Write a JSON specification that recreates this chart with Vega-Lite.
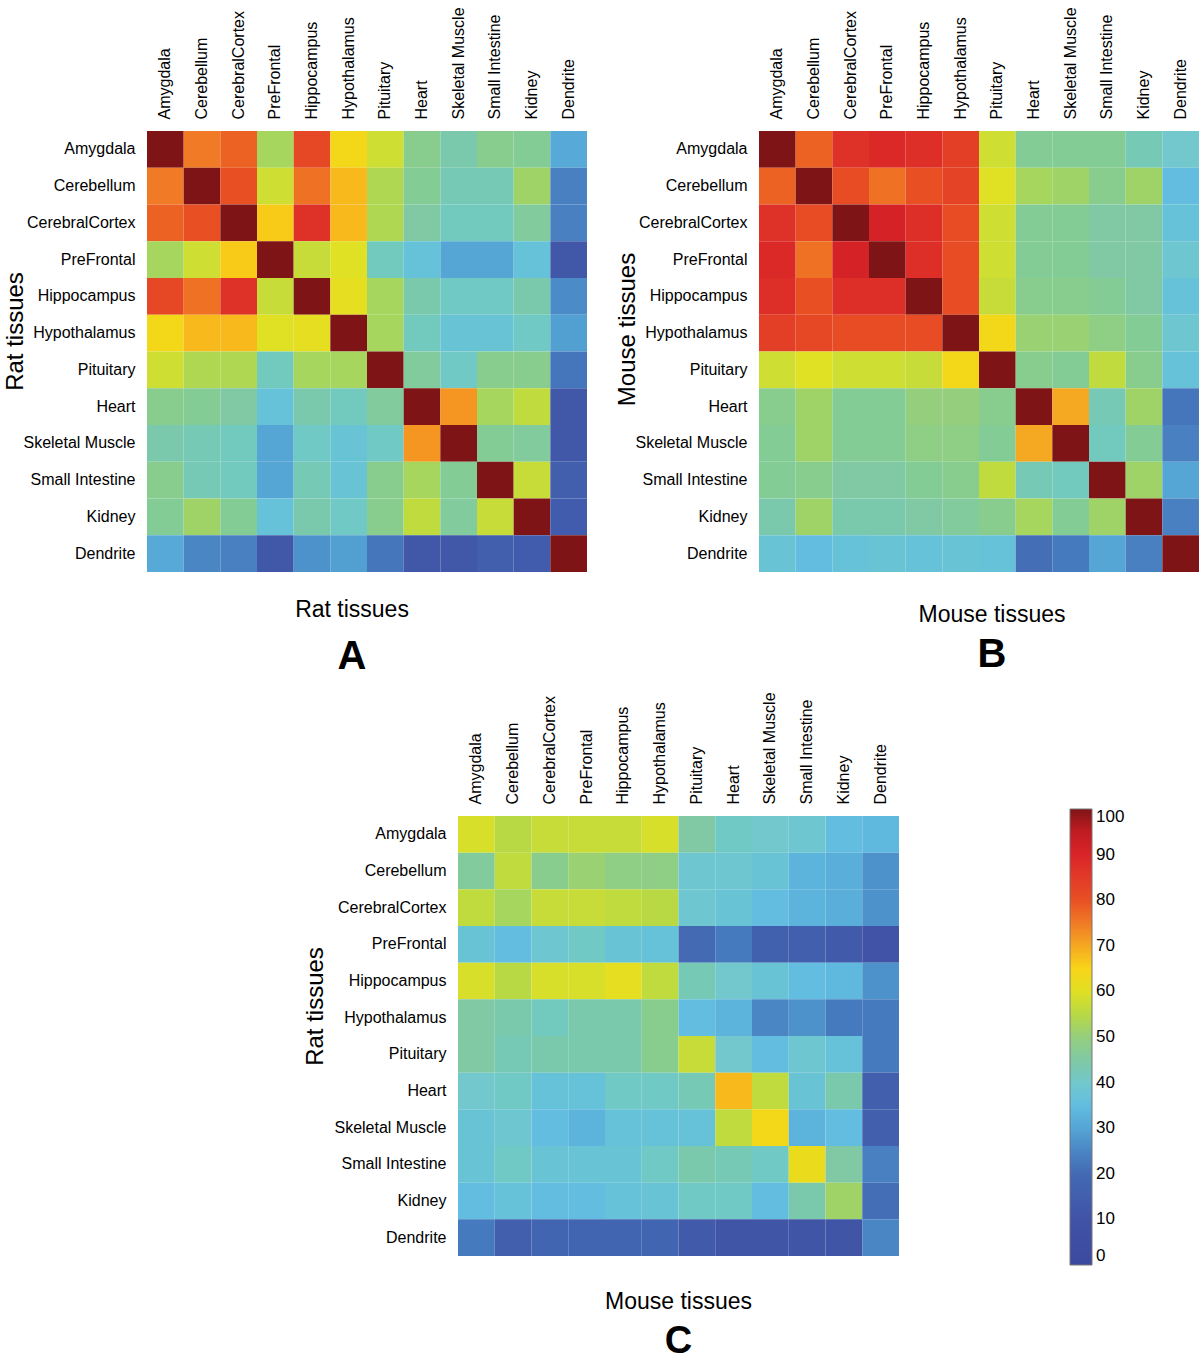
{
"$schema": "https://vega.github.io/schema/vega-lite/v6.json",
"padding": {"left": 3, "top": 6, "right": 0, "bottom": 0},
"background": "white",
"config": {"font": "Liberation Sans", "view": {"stroke": null},
 "axis": {"labelFont": "Liberation Sans", "labelFontSize": 16, "labelColor": "black", "ticks": false, "domain": false, "labelPadding": 12, "titleFont": "Liberation Sans", "titleFontSize": 23, "titleFontWeight": "normal", "titleColor": "black"},
 "title": {"font": "Liberation Sans", "fontSize": 23, "fontWeight": "normal", "color": "black", "subtitleFont": "Liberation Sans", "subtitleFontSize": 40, "subtitleFontWeight": "bold", "subtitleColor": "black", "orient": "bottom", "frame": "group", "anchor": "middle"}
},
"datasets": {
"A": [
{"r":"Amygdala","c":"Amygdala","v":100},{"r":"Amygdala","c":"Cerebellum","v":75},{"r":"Amygdala","c":"CerebralCortex","v":78},{"r":"Amygdala","c":"PreFrontal","v":53},{"r":"Amygdala","c":"Hippocampus","v":82},{"r":"Amygdala","c":"Hypothalamus","v":64},{"r":"Amygdala","c":"Pituitary","v":58},{"r":"Amygdala","c":"Heart","v":48},{"r":"Amygdala","c":"Skeletal Muscle","v":44},{"r":"Amygdala","c":"Small Intestine","v":48},{"r":"Amygdala","c":"Kidney","v":47},{"r":"Amygdala","c":"Dendrite","v":31},
{"r":"Cerebellum","c":"Amygdala","v":75},{"r":"Cerebellum","c":"Cerebellum","v":100},{"r":"Cerebellum","c":"CerebralCortex","v":80},{"r":"Cerebellum","c":"PreFrontal","v":58},{"r":"Cerebellum","c":"Hippocampus","v":76},{"r":"Cerebellum","c":"Hypothalamus","v":68},{"r":"Cerebellum","c":"Pituitary","v":54},{"r":"Cerebellum","c":"Heart","v":47},{"r":"Cerebellum","c":"Skeletal Muscle","v":43},{"r":"Cerebellum","c":"Small Intestine","v":43},{"r":"Cerebellum","c":"Kidney","v":52},{"r":"Cerebellum","c":"Dendrite","v":24},
{"r":"CerebralCortex","c":"Amygdala","v":78},{"r":"CerebralCortex","c":"Cerebellum","v":80},{"r":"CerebralCortex","c":"CerebralCortex","v":100},{"r":"CerebralCortex","c":"PreFrontal","v":66},{"r":"CerebralCortex","c":"Hippocampus","v":87},{"r":"CerebralCortex","c":"Hypothalamus","v":68},{"r":"CerebralCortex","c":"Pituitary","v":54},{"r":"CerebralCortex","c":"Heart","v":45},{"r":"CerebralCortex","c":"Skeletal Muscle","v":42},{"r":"CerebralCortex","c":"Small Intestine","v":42},{"r":"CerebralCortex","c":"Kidney","v":46},{"r":"CerebralCortex","c":"Dendrite","v":24},
{"r":"PreFrontal","c":"Amygdala","v":53},{"r":"PreFrontal","c":"Cerebellum","v":58},{"r":"PreFrontal","c":"CerebralCortex","v":66},{"r":"PreFrontal","c":"PreFrontal","v":100},{"r":"PreFrontal","c":"Hippocampus","v":57},{"r":"PreFrontal","c":"Hypothalamus","v":60},{"r":"PreFrontal","c":"Pituitary","v":42},{"r":"PreFrontal","c":"Heart","v":37},{"r":"PreFrontal","c":"Skeletal Muscle","v":30},{"r":"PreFrontal","c":"Small Intestine","v":30},{"r":"PreFrontal","c":"Kidney","v":37},{"r":"PreFrontal","c":"Dendrite","v":12},
{"r":"Hippocampus","c":"Amygdala","v":82},{"r":"Hippocampus","c":"Cerebellum","v":76},{"r":"Hippocampus","c":"CerebralCortex","v":87},{"r":"Hippocampus","c":"PreFrontal","v":57},{"r":"Hippocampus","c":"Hippocampus","v":100},{"r":"Hippocampus","c":"Hypothalamus","v":61},{"r":"Hippocampus","c":"Pituitary","v":53},{"r":"Hippocampus","c":"Heart","v":44},{"r":"Hippocampus","c":"Skeletal Muscle","v":41},{"r":"Hippocampus","c":"Small Intestine","v":41},{"r":"Hippocampus","c":"Kidney","v":44},{"r":"Hippocampus","c":"Dendrite","v":26},
{"r":"Hypothalamus","c":"Amygdala","v":64},{"r":"Hypothalamus","c":"Cerebellum","v":68},{"r":"Hypothalamus","c":"CerebralCortex","v":68},{"r":"Hypothalamus","c":"PreFrontal","v":60},{"r":"Hypothalamus","c":"Hippocampus","v":61},{"r":"Hypothalamus","c":"Hypothalamus","v":100},{"r":"Hypothalamus","c":"Pituitary","v":53},{"r":"Hypothalamus","c":"Heart","v":42},{"r":"Hypothalamus","c":"Skeletal Muscle","v":38},{"r":"Hypothalamus","c":"Small Intestine","v":38},{"r":"Hypothalamus","c":"Kidney","v":41},{"r":"Hypothalamus","c":"Dendrite","v":29},
{"r":"Pituitary","c":"Amygdala","v":58},{"r":"Pituitary","c":"Cerebellum","v":54},{"r":"Pituitary","c":"CerebralCortex","v":54},{"r":"Pituitary","c":"PreFrontal","v":42},{"r":"Pituitary","c":"Hippocampus","v":53},{"r":"Pituitary","c":"Hypothalamus","v":53},{"r":"Pituitary","c":"Pituitary","v":100},{"r":"Pituitary","c":"Heart","v":46},{"r":"Pituitary","c":"Skeletal Muscle","v":41},{"r":"Pituitary","c":"Small Intestine","v":48},{"r":"Pituitary","c":"Kidney","v":48},{"r":"Pituitary","c":"Dendrite","v":22},
{"r":"Heart","c":"Amygdala","v":48},{"r":"Heart","c":"Cerebellum","v":47},{"r":"Heart","c":"CerebralCortex","v":45},{"r":"Heart","c":"PreFrontal","v":37},{"r":"Heart","c":"Hippocampus","v":44},{"r":"Heart","c":"Hypothalamus","v":42},{"r":"Heart","c":"Pituitary","v":46},{"r":"Heart","c":"Heart","v":100},{"r":"Heart","c":"Skeletal Muscle","v":72},{"r":"Heart","c":"Small Intestine","v":53},{"r":"Heart","c":"Kidney","v":56},{"r":"Heart","c":"Dendrite","v":12},
{"r":"Skeletal Muscle","c":"Amygdala","v":44},{"r":"Skeletal Muscle","c":"Cerebellum","v":43},{"r":"Skeletal Muscle","c":"CerebralCortex","v":42},{"r":"Skeletal Muscle","c":"PreFrontal","v":30},{"r":"Skeletal Muscle","c":"Hippocampus","v":41},{"r":"Skeletal Muscle","c":"Hypothalamus","v":38},{"r":"Skeletal Muscle","c":"Pituitary","v":41},{"r":"Skeletal Muscle","c":"Heart","v":72},{"r":"Skeletal Muscle","c":"Skeletal Muscle","v":100},{"r":"Skeletal Muscle","c":"Small Intestine","v":47},{"r":"Skeletal Muscle","c":"Kidney","v":46},{"r":"Skeletal Muscle","c":"Dendrite","v":12},
{"r":"Small Intestine","c":"Amygdala","v":48},{"r":"Small Intestine","c":"Cerebellum","v":43},{"r":"Small Intestine","c":"CerebralCortex","v":42},{"r":"Small Intestine","c":"PreFrontal","v":30},{"r":"Small Intestine","c":"Hippocampus","v":43},{"r":"Small Intestine","c":"Hypothalamus","v":38},{"r":"Small Intestine","c":"Pituitary","v":48},{"r":"Small Intestine","c":"Heart","v":53},{"r":"Small Intestine","c":"Skeletal Muscle","v":47},{"r":"Small Intestine","c":"Small Intestine","v":100},{"r":"Small Intestine","c":"Kidney","v":57},{"r":"Small Intestine","c":"Dendrite","v":15},
{"r":"Kidney","c":"Amygdala","v":47},{"r":"Kidney","c":"Cerebellum","v":52},{"r":"Kidney","c":"CerebralCortex","v":47},{"r":"Kidney","c":"PreFrontal","v":37},{"r":"Kidney","c":"Hippocampus","v":44},{"r":"Kidney","c":"Hypothalamus","v":41},{"r":"Kidney","c":"Pituitary","v":48},{"r":"Kidney","c":"Heart","v":56},{"r":"Kidney","c":"Skeletal Muscle","v":46},{"r":"Kidney","c":"Small Intestine","v":57},{"r":"Kidney","c":"Kidney","v":100},{"r":"Kidney","c":"Dendrite","v":14},
{"r":"Dendrite","c":"Amygdala","v":31},{"r":"Dendrite","c":"Cerebellum","v":25},{"r":"Dendrite","c":"CerebralCortex","v":24},{"r":"Dendrite","c":"PreFrontal","v":12},{"r":"Dendrite","c":"Hippocampus","v":27},{"r":"Dendrite","c":"Hypothalamus","v":29},{"r":"Dendrite","c":"Pituitary","v":22},{"r":"Dendrite","c":"Heart","v":12},{"r":"Dendrite","c":"Skeletal Muscle","v":12},{"r":"Dendrite","c":"Small Intestine","v":15},{"r":"Dendrite","c":"Kidney","v":14},{"r":"Dendrite","c":"Dendrite","v":100}
],
"B": [
{"r":"Amygdala","c":"Amygdala","v":100},{"r":"Amygdala","c":"Cerebellum","v":78},{"r":"Amygdala","c":"CerebralCortex","v":87},{"r":"Amygdala","c":"PreFrontal","v":89},{"r":"Amygdala","c":"Hippocampus","v":88},{"r":"Amygdala","c":"Hypothalamus","v":84},{"r":"Amygdala","c":"Pituitary","v":58},{"r":"Amygdala","c":"Heart","v":47},{"r":"Amygdala","c":"Skeletal Muscle","v":47},{"r":"Amygdala","c":"Small Intestine","v":47},{"r":"Amygdala","c":"Kidney","v":43},{"r":"Amygdala","c":"Dendrite","v":40},
{"r":"Cerebellum","c":"Amygdala","v":78},{"r":"Cerebellum","c":"Cerebellum","v":100},{"r":"Cerebellum","c":"CerebralCortex","v":81},{"r":"Cerebellum","c":"PreFrontal","v":76},{"r":"Cerebellum","c":"Hippocampus","v":80},{"r":"Cerebellum","c":"Hypothalamus","v":83},{"r":"Cerebellum","c":"Pituitary","v":60},{"r":"Cerebellum","c":"Heart","v":53},{"r":"Cerebellum","c":"Skeletal Muscle","v":52},{"r":"Cerebellum","c":"Small Intestine","v":48},{"r":"Cerebellum","c":"Kidney","v":52},{"r":"Cerebellum","c":"Dendrite","v":35},
{"r":"CerebralCortex","c":"Amygdala","v":87},{"r":"CerebralCortex","c":"Cerebellum","v":81},{"r":"CerebralCortex","c":"CerebralCortex","v":100},{"r":"CerebralCortex","c":"PreFrontal","v":91},{"r":"CerebralCortex","c":"Hippocampus","v":88},{"r":"CerebralCortex","c":"Hypothalamus","v":81},{"r":"CerebralCortex","c":"Pituitary","v":58},{"r":"CerebralCortex","c":"Heart","v":47},{"r":"CerebralCortex","c":"Skeletal Muscle","v":47},{"r":"CerebralCortex","c":"Small Intestine","v":45},{"r":"CerebralCortex","c":"Kidney","v":45},{"r":"CerebralCortex","c":"Dendrite","v":37},
{"r":"PreFrontal","c":"Amygdala","v":89},{"r":"PreFrontal","c":"Cerebellum","v":76},{"r":"PreFrontal","c":"CerebralCortex","v":91},{"r":"PreFrontal","c":"PreFrontal","v":100},{"r":"PreFrontal","c":"Hippocampus","v":88},{"r":"PreFrontal","c":"Hypothalamus","v":81},{"r":"PreFrontal","c":"Pituitary","v":58},{"r":"PreFrontal","c":"Heart","v":47},{"r":"PreFrontal","c":"Skeletal Muscle","v":47},{"r":"PreFrontal","c":"Small Intestine","v":45},{"r":"PreFrontal","c":"Kidney","v":45},{"r":"PreFrontal","c":"Dendrite","v":39},
{"r":"Hippocampus","c":"Amygdala","v":88},{"r":"Hippocampus","c":"Cerebellum","v":80},{"r":"Hippocampus","c":"CerebralCortex","v":88},{"r":"Hippocampus","c":"PreFrontal","v":88},{"r":"Hippocampus","c":"Hippocampus","v":100},{"r":"Hippocampus","c":"Hypothalamus","v":81},{"r":"Hippocampus","c":"Pituitary","v":57},{"r":"Hippocampus","c":"Heart","v":48},{"r":"Hippocampus","c":"Skeletal Muscle","v":48},{"r":"Hippocampus","c":"Small Intestine","v":47},{"r":"Hippocampus","c":"Kidney","v":45},{"r":"Hippocampus","c":"Dendrite","v":37},
{"r":"Hypothalamus","c":"Amygdala","v":84},{"r":"Hypothalamus","c":"Cerebellum","v":82},{"r":"Hypothalamus","c":"CerebralCortex","v":81},{"r":"Hypothalamus","c":"PreFrontal","v":81},{"r":"Hypothalamus","c":"Hippocampus","v":81},{"r":"Hypothalamus","c":"Hypothalamus","v":100},{"r":"Hypothalamus","c":"Pituitary","v":64},{"r":"Hypothalamus","c":"Heart","v":51},{"r":"Hypothalamus","c":"Skeletal Muscle","v":51},{"r":"Hypothalamus","c":"Small Intestine","v":49},{"r":"Hypothalamus","c":"Kidney","v":47},{"r":"Hypothalamus","c":"Dendrite","v":39},
{"r":"Pituitary","c":"Amygdala","v":58},{"r":"Pituitary","c":"Cerebellum","v":60},{"r":"Pituitary","c":"CerebralCortex","v":58},{"r":"Pituitary","c":"PreFrontal","v":58},{"r":"Pituitary","c":"Hippocampus","v":57},{"r":"Pituitary","c":"Hypothalamus","v":64},{"r":"Pituitary","c":"Pituitary","v":100},{"r":"Pituitary","c":"Heart","v":48},{"r":"Pituitary","c":"Skeletal Muscle","v":47},{"r":"Pituitary","c":"Small Intestine","v":56},{"r":"Pituitary","c":"Kidney","v":48},{"r":"Pituitary","c":"Dendrite","v":37},
{"r":"Heart","c":"Amygdala","v":48},{"r":"Heart","c":"Cerebellum","v":52},{"r":"Heart","c":"CerebralCortex","v":47},{"r":"Heart","c":"PreFrontal","v":47},{"r":"Heart","c":"Hippocampus","v":50},{"r":"Heart","c":"Hypothalamus","v":50},{"r":"Heart","c":"Pituitary","v":48},{"r":"Heart","c":"Heart","v":100},{"r":"Heart","c":"Skeletal Muscle","v":70},{"r":"Heart","c":"Small Intestine","v":43},{"r":"Heart","c":"Kidney","v":52},{"r":"Heart","c":"Dendrite","v":22},
{"r":"Skeletal Muscle","c":"Amygdala","v":47},{"r":"Skeletal Muscle","c":"Cerebellum","v":52},{"r":"Skeletal Muscle","c":"CerebralCortex","v":47},{"r":"Skeletal Muscle","c":"PreFrontal","v":47},{"r":"Skeletal Muscle","c":"Hippocampus","v":49},{"r":"Skeletal Muscle","c":"Hypothalamus","v":49},{"r":"Skeletal Muscle","c":"Pituitary","v":47},{"r":"Skeletal Muscle","c":"Heart","v":70},{"r":"Skeletal Muscle","c":"Skeletal Muscle","v":100},{"r":"Skeletal Muscle","c":"Small Intestine","v":42},{"r":"Skeletal Muscle","c":"Kidney","v":47},{"r":"Skeletal Muscle","c":"Dendrite","v":24},
{"r":"Small Intestine","c":"Amygdala","v":47},{"r":"Small Intestine","c":"Cerebellum","v":48},{"r":"Small Intestine","c":"CerebralCortex","v":45},{"r":"Small Intestine","c":"PreFrontal","v":45},{"r":"Small Intestine","c":"Hippocampus","v":47},{"r":"Small Intestine","c":"Hypothalamus","v":48},{"r":"Small Intestine","c":"Pituitary","v":56},{"r":"Small Intestine","c":"Heart","v":43},{"r":"Small Intestine","c":"Skeletal Muscle","v":42},{"r":"Small Intestine","c":"Small Intestine","v":100},{"r":"Small Intestine","c":"Kidney","v":52},{"r":"Small Intestine","c":"Dendrite","v":30},
{"r":"Kidney","c":"Amygdala","v":44},{"r":"Kidney","c":"Cerebellum","v":52},{"r":"Kidney","c":"CerebralCortex","v":44},{"r":"Kidney","c":"PreFrontal","v":44},{"r":"Kidney","c":"Hippocampus","v":45},{"r":"Kidney","c":"Hypothalamus","v":46},{"r":"Kidney","c":"Pituitary","v":48},{"r":"Kidney","c":"Heart","v":53},{"r":"Kidney","c":"Skeletal Muscle","v":47},{"r":"Kidney","c":"Small Intestine","v":52},{"r":"Kidney","c":"Kidney","v":100},{"r":"Kidney","c":"Dendrite","v":24},
{"r":"Dendrite","c":"Amygdala","v":38},{"r":"Dendrite","c":"Cerebellum","v":35},{"r":"Dendrite","c":"CerebralCortex","v":37},{"r":"Dendrite","c":"PreFrontal","v":38},{"r":"Dendrite","c":"Hippocampus","v":37},{"r":"Dendrite","c":"Hypothalamus","v":38},{"r":"Dendrite","c":"Pituitary","v":37},{"r":"Dendrite","c":"Heart","v":21},{"r":"Dendrite","c":"Skeletal Muscle","v":23},{"r":"Dendrite","c":"Small Intestine","v":30},{"r":"Dendrite","c":"Kidney","v":24},{"r":"Dendrite","c":"Dendrite","v":100}
],
"C": [
{"r":"Amygdala","c":"Amygdala","v":59},{"r":"Amygdala","c":"Cerebellum","v":55},{"r":"Amygdala","c":"CerebralCortex","v":57},{"r":"Amygdala","c":"PreFrontal","v":57},{"r":"Amygdala","c":"Hippocampus","v":57},{"r":"Amygdala","c":"Hypothalamus","v":59},{"r":"Amygdala","c":"Pituitary","v":45},{"r":"Amygdala","c":"Heart","v":41},{"r":"Amygdala","c":"Skeletal Muscle","v":40},{"r":"Amygdala","c":"Small Intestine","v":39},{"r":"Amygdala","c":"Kidney","v":35},{"r":"Amygdala","c":"Dendrite","v":34},
{"r":"Cerebellum","c":"Amygdala","v":46},{"r":"Cerebellum","c":"Cerebellum","v":56},{"r":"Cerebellum","c":"CerebralCortex","v":48},{"r":"Cerebellum","c":"PreFrontal","v":51},{"r":"Cerebellum","c":"Hippocampus","v":49},{"r":"Cerebellum","c":"Hypothalamus","v":49},{"r":"Cerebellum","c":"Pituitary","v":39},{"r":"Cerebellum","c":"Heart","v":39},{"r":"Cerebellum","c":"Skeletal Muscle","v":38},{"r":"Cerebellum","c":"Small Intestine","v":33},{"r":"Cerebellum","c":"Kidney","v":32},{"r":"Cerebellum","c":"Dendrite","v":27},
{"r":"CerebralCortex","c":"Amygdala","v":56},{"r":"CerebralCortex","c":"Cerebellum","v":53},{"r":"CerebralCortex","c":"CerebralCortex","v":57},{"r":"CerebralCortex","c":"PreFrontal","v":57},{"r":"CerebralCortex","c":"Hippocampus","v":56},{"r":"CerebralCortex","c":"Hypothalamus","v":55},{"r":"CerebralCortex","c":"Pituitary","v":39},{"r":"CerebralCortex","c":"Heart","v":38},{"r":"CerebralCortex","c":"Skeletal Muscle","v":35},{"r":"CerebralCortex","c":"Small Intestine","v":33},{"r":"CerebralCortex","c":"Kidney","v":32},{"r":"CerebralCortex","c":"Dendrite","v":27},
{"r":"PreFrontal","c":"Amygdala","v":38},{"r":"PreFrontal","c":"Cerebellum","v":35},{"r":"PreFrontal","c":"CerebralCortex","v":39},{"r":"PreFrontal","c":"PreFrontal","v":41},{"r":"PreFrontal","c":"Hippocampus","v":38},{"r":"PreFrontal","c":"Hypothalamus","v":37},{"r":"PreFrontal","c":"Pituitary","v":20},{"r":"PreFrontal","c":"Heart","v":23},{"r":"PreFrontal","c":"Skeletal Muscle","v":16},{"r":"PreFrontal","c":"Small Intestine","v":15},{"r":"PreFrontal","c":"Kidney","v":13},{"r":"PreFrontal","c":"Dendrite","v":10},
{"r":"Hippocampus","c":"Amygdala","v":59},{"r":"Hippocampus","c":"Cerebellum","v":55},{"r":"Hippocampus","c":"CerebralCortex","v":59},{"r":"Hippocampus","c":"PreFrontal","v":59},{"r":"Hippocampus","c":"Hippocampus","v":61},{"r":"Hippocampus","c":"Hypothalamus","v":56},{"r":"Hippocampus","c":"Pituitary","v":43},{"r":"Hippocampus","c":"Heart","v":40},{"r":"Hippocampus","c":"Skeletal Muscle","v":38},{"r":"Hippocampus","c":"Small Intestine","v":35},{"r":"Hippocampus","c":"Kidney","v":34},{"r":"Hippocampus","c":"Dendrite","v":27},
{"r":"Hypothalamus","c":"Amygdala","v":45},{"r":"Hypothalamus","c":"Cerebellum","v":44},{"r":"Hypothalamus","c":"CerebralCortex","v":42},{"r":"Hypothalamus","c":"PreFrontal","v":44},{"r":"Hypothalamus","c":"Hippocampus","v":44},{"r":"Hypothalamus","c":"Hypothalamus","v":48},{"r":"Hypothalamus","c":"Pituitary","v":35},{"r":"Hypothalamus","c":"Heart","v":33},{"r":"Hypothalamus","c":"Skeletal Muscle","v":25},{"r":"Hypothalamus","c":"Small Intestine","v":27},{"r":"Hypothalamus","c":"Kidney","v":23},{"r":"Hypothalamus","c":"Dendrite","v":23},
{"r":"Pituitary","c":"Amygdala","v":45},{"r":"Pituitary","c":"Cerebellum","v":43},{"r":"Pituitary","c":"CerebralCortex","v":44},{"r":"Pituitary","c":"PreFrontal","v":44},{"r":"Pituitary","c":"Hippocampus","v":44},{"r":"Pituitary","c":"Hypothalamus","v":48},{"r":"Pituitary","c":"Pituitary","v":57},{"r":"Pituitary","c":"Heart","v":40},{"r":"Pituitary","c":"Skeletal Muscle","v":35},{"r":"Pituitary","c":"Small Intestine","v":39},{"r":"Pituitary","c":"Kidney","v":37},{"r":"Pituitary","c":"Dendrite","v":23},
{"r":"Heart","c":"Amygdala","v":40},{"r":"Heart","c":"Cerebellum","v":41},{"r":"Heart","c":"CerebralCortex","v":37},{"r":"Heart","c":"PreFrontal","v":37},{"r":"Heart","c":"Hippocampus","v":41},{"r":"Heart","c":"Hypothalamus","v":41},{"r":"Heart","c":"Pituitary","v":43},{"r":"Heart","c":"Heart","v":68},{"r":"Heart","c":"Skeletal Muscle","v":56},{"r":"Heart","c":"Small Intestine","v":38},{"r":"Heart","c":"Kidney","v":44},{"r":"Heart","c":"Dendrite","v":15},
{"r":"Skeletal Muscle","c":"Amygdala","v":38},{"r":"Skeletal Muscle","c":"Cerebellum","v":39},{"r":"Skeletal Muscle","c":"CerebralCortex","v":35},{"r":"Skeletal Muscle","c":"PreFrontal","v":33},{"r":"Skeletal Muscle","c":"Hippocampus","v":37},{"r":"Skeletal Muscle","c":"Hypothalamus","v":37},{"r":"Skeletal Muscle","c":"Pituitary","v":37},{"r":"Skeletal Muscle","c":"Heart","v":56},{"r":"Skeletal Muscle","c":"Skeletal Muscle","v":64},{"r":"Skeletal Muscle","c":"Small Intestine","v":33},{"r":"Skeletal Muscle","c":"Kidney","v":35},{"r":"Skeletal Muscle","c":"Dendrite","v":15},
{"r":"Small Intestine","c":"Amygdala","v":38},{"r":"Small Intestine","c":"Cerebellum","v":41},{"r":"Small Intestine","c":"CerebralCortex","v":38},{"r":"Small Intestine","c":"PreFrontal","v":38},{"r":"Small Intestine","c":"Hippocampus","v":38},{"r":"Small Intestine","c":"Hypothalamus","v":41},{"r":"Small Intestine","c":"Pituitary","v":44},{"r":"Small Intestine","c":"Heart","v":43},{"r":"Small Intestine","c":"Skeletal Muscle","v":41},{"r":"Small Intestine","c":"Small Intestine","v":62},{"r":"Small Intestine","c":"Kidney","v":45},{"r":"Small Intestine","c":"Dendrite","v":24},
{"r":"Kidney","c":"Amygdala","v":35},{"r":"Kidney","c":"Cerebellum","v":37},{"r":"Kidney","c":"CerebralCortex","v":35},{"r":"Kidney","c":"PreFrontal","v":35},{"r":"Kidney","c":"Hippocampus","v":37},{"r":"Kidney","c":"Hypothalamus","v":38},{"r":"Kidney","c":"Pituitary","v":41},{"r":"Kidney","c":"Heart","v":41},{"r":"Kidney","c":"Skeletal Muscle","v":35},{"r":"Kidney","c":"Small Intestine","v":44},{"r":"Kidney","c":"Kidney","v":52},{"r":"Kidney","c":"Dendrite","v":21},
{"r":"Dendrite","c":"Amygdala","v":23},{"r":"Dendrite","c":"Cerebellum","v":15},{"r":"Dendrite","c":"CerebralCortex","v":18},{"r":"Dendrite","c":"PreFrontal","v":18},{"r":"Dendrite","c":"Hippocampus","v":18},{"r":"Dendrite","c":"Hypothalamus","v":18},{"r":"Dendrite","c":"Pituitary","v":13},{"r":"Dendrite","c":"Heart","v":11},{"r":"Dendrite","c":"Skeletal Muscle","v":11},{"r":"Dendrite","c":"Small Intestine","v":11},{"r":"Dendrite","c":"Kidney","v":11},{"r":"Dendrite","c":"Dendrite","v":25}
]
},
"vconcat": [
{
"hconcat": [
{
"data": {"name": "A"},
"width": 440, "height": 441,
"title": {"text": "Rat tissues", "subtitle": "A", "offset": 27, "subtitlePadding": 15, "dx": -15},
"mark": {"type": "rect"},
"encoding": {
"x": {"field": "c", "type": "ordinal", "sort": ["Amygdala","Cerebellum","CerebralCortex","PreFrontal","Hippocampus","Hypothalamus","Pituitary","Heart","Skeletal Muscle","Small Intestine","Kidney","Dendrite"], "scale": {"paddingInner": 0, "paddingOuter": 0}, "axis": {"orient": "top", "title": null, "labelAngle": -90}},
"y": {"field": "r", "type": "ordinal", "sort": ["Amygdala","Cerebellum","CerebralCortex","PreFrontal","Hippocampus","Hypothalamus","Pituitary","Heart","Skeletal Muscle","Small Intestine","Kidney","Dendrite"], "scale": {"paddingInner": 0, "paddingOuter": 0}, "axis": {"title": "Rat tissues", "titleX": -132, "titleY": 200, "titleAngle": -90, "titleBaseline": "middle", "titleAlign": "center", "titleFontSize": 24}},
"color": {"field": "v", "type": "quantitative", "legend": null,
 "scale": {"domain": [0,10,20,25,30,35,40,45,50,55,60,65,70,75,80,85,90,95,100], "range": ["#3c4a9e","#4153a6","#436ab3","#4a85c4","#55a5d5","#62bde0","#72c8cc","#80c9a4","#95ce7c","#b8d944","#e0e024","#f8d418","#f5a822","#f07a25","#e85024","#e23a28","#d92428","#c01c22","#7f1416"]}}
}
},
{
"data": {"name": "B"},
"width": 440, "height": 441,
"title": {"text": "Mouse tissues", "subtitle": "B", "offset": 32, "subtitlePadding": 8, "dx": 13},
"mark": {"type": "rect"},
"encoding": {
"x": {"field": "c", "type": "ordinal", "sort": ["Amygdala","Cerebellum","CerebralCortex","PreFrontal","Hippocampus","Hypothalamus","Pituitary","Heart","Skeletal Muscle","Small Intestine","Kidney","Dendrite"], "scale": {"paddingInner": 0, "paddingOuter": 0}, "axis": {"orient": "top", "title": null, "labelAngle": -90}},
"y": {"field": "r", "type": "ordinal", "sort": ["Amygdala","Cerebellum","CerebralCortex","PreFrontal","Hippocampus","Hypothalamus","Pituitary","Heart","Skeletal Muscle","Small Intestine","Kidney","Dendrite"], "scale": {"paddingInner": 0, "paddingOuter": 0}, "axis": {"title": "Mouse tissues", "titleX": -132, "titleY": 198, "titleAngle": -90, "titleBaseline": "middle", "titleAlign": "center", "titleFontSize": 24}},
"color": {"field": "v", "type": "quantitative", "legend": null,
 "scale": {"domain": [0,10,20,25,30,35,40,45,50,55,60,65,70,75,80,85,90,95,100], "range": ["#3c4a9e","#4153a6","#436ab3","#4a85c4","#55a5d5","#62bde0","#72c8cc","#80c9a4","#95ce7c","#b8d944","#e0e024","#f8d418","#f5a822","#f07a25","#e85024","#e23a28","#d92428","#c01c22","#7f1416"]}}
}
}
],
"spacing": 172,
"bounds": "flush",
"resolve": {"scale": {"color": "independent"}}
},
{
"hconcat": [
{
"data": {"values": []},
"width": 301, "height": 440,
"mark": {"type": "rect"}
},
{
"data": {"name": "C"},
"width": 441, "height": 440,
"title": {"text": "Mouse tissues", "subtitle": "C", "offset": 25, "subtitlePadding": 9, "subtitleFontSize": 38, "dx": 0},
"mark": {"type": "rect"},
"encoding": {
"x": {"field": "c", "type": "ordinal", "sort": ["Amygdala","Cerebellum","CerebralCortex","PreFrontal","Hippocampus","Hypothalamus","Pituitary","Heart","Skeletal Muscle","Small Intestine","Kidney","Dendrite"], "scale": {"paddingInner": 0, "paddingOuter": 0}, "axis": {"orient": "top", "title": null, "labelAngle": -90}},
"y": {"field": "r", "type": "ordinal", "sort": ["Amygdala","Cerebellum","CerebralCortex","PreFrontal","Hippocampus","Hypothalamus","Pituitary","Heart","Skeletal Muscle","Small Intestine","Kidney","Dendrite"], "scale": {"paddingInner": 0, "paddingOuter": 0}, "axis": {"title": "Rat tissues", "titleX": -143, "titleY": 190, "titleAngle": -90, "titleBaseline": "middle", "titleAlign": "center", "titleFontSize": 24}},
"color": {"field": "v", "type": "quantitative",
 "scale": {"domain": [0,10,20,25,30,35,40,45,50,55,60,65,70,75,80,85,90,95,100], "range": ["#3c4a9e","#4153a6","#436ab3","#4a85c4","#55a5d5","#62bde0","#72c8cc","#80c9a4","#95ce7c","#b8d944","#e0e024","#f8d418","#f5a822","#f07a25","#e85024","#e23a28","#d92428","#c01c22","#7f1416"]},
 "legend": {"orient": "none", "legendX": 612, "legendY": -7, "direction": "vertical", "title": null, "gradientLength": 456, "gradientThickness": 22, "values": [0,10,20,30,40,50,60,70,80,90,100], "labelFontSize": 17, "labelFont": "Liberation Sans", "labelColor": "black", "labelOffset": 4, "labelBaseline": "middle", "labelOverlap": false, "gradientStrokeColor": "#777", "gradientStrokeWidth": 1, "padding": 0}}
}
}
],
"spacing": 10,
"bounds": "flush",
"resolve": {"scale": {"color": "independent"}}
}
],
"spacing": 685,
"bounds": "flush",
"resolve": {"scale": {"color": "independent"}}
}
